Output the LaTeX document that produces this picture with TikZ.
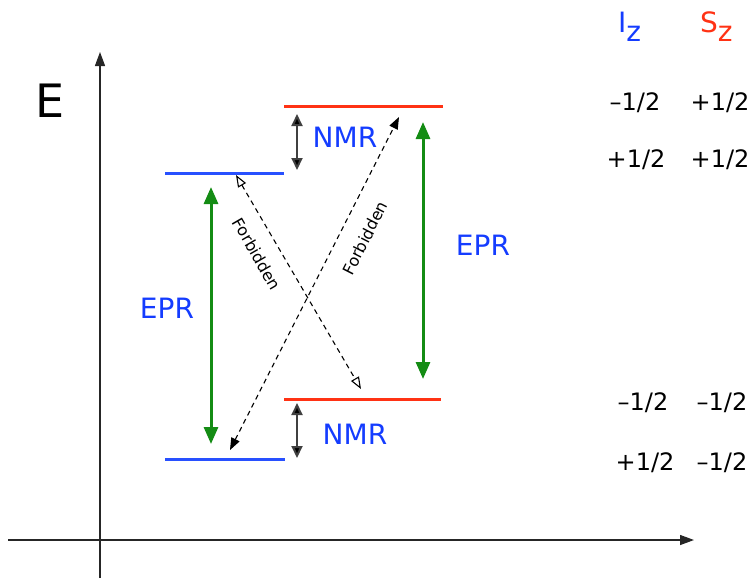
\documentclass[tikz,border=0pt]{standalone}
\usepackage{fontspec}
\setmainfont{DejaVu Sans}
\usetikzlibrary{arrows.meta}
\definecolor{lvblue}{RGB}{40,80,255}
\definecolor{lvred}{RGB}{255,50,20}
\definecolor{epr}{RGB}{20,140,20}
\definecolor{txtblue}{RGB}{20,60,255}
\tikzset{
  level/.style={line width=3pt},
  eprarrow/.style={epr,line width=3pt,{Triangle[length=17pt,width=14pt]}-{Triangle[length=17pt,width=14pt]}},
  nmrarrow/.style={black!75,line width=2pt,{Triangle[length=12pt,width=11pt,fill=black]}-{Triangle[length=12pt,width=11pt,fill=black]}},
  forbopen/.style={black,line width=1.1pt,dash pattern=on 5pt off 4pt,{Triangle[open,length=12pt,width=9pt]}-{Triangle[open,length=12pt,width=9pt]}},
  forbfill/.style={black,line width=1.1pt,dash pattern=on 5pt off 4pt,{Triangle[length=12pt,width=9pt]}-{Triangle[length=12pt,width=9pt]}},
  axis/.style={black!85,line width=1.3pt},
  lbl/.style={inner sep=0pt,text=txtblue,font=\fontsize{28}{30}\selectfont},
  val/.style={inner sep=0pt,font=\fontsize{24}{26}\selectfont},
  forb/.style={inner sep=0pt,font=\fontsize{16}{18}\selectfont}
}
\begin{document}
\begin{tikzpicture}[x=1pt,y=-1pt]
\useasboundingbox (0,0) rectangle (751,579);
% axes
\coordinate (yb) at (100,578);
\coordinate (yt) at (100,52);
\coordinate (xl) at (8,540);
\coordinate (xr) at (694,540);
\draw[axis,-{Triangle[length=14pt,width=10pt]}] (yb) -- (yt);
\draw[axis,-{Triangle[length=14pt,width=10pt]}] (xl) -- (xr);
\node[inner sep=0pt,font=\fontsize{46}{48}\selectfont] (E) at (50,101) {E};
% levels
\coordinate (b1L) at (165,173); \coordinate (b1R) at (284,173);
\coordinate (r1L) at (284,106); \coordinate (r1R) at (443,106);
\coordinate (r2L) at (284,399); \coordinate (r2R) at (441,399);
\coordinate (b2L) at (165,459); \coordinate (b2R) at (285,459);
\draw[level,lvblue] (b1L) -- (b1R);
\draw[level,lvred] (r1L) -- (r1R);
\draw[level,lvred] (r2L) -- (r2R);
\draw[level,lvblue] (b2L) -- (b2R);
% EPR arrows
\coordinate (e1t) at (211,187); \coordinate (e1b) at (211,444);
\coordinate (e2t) at (423,122); \coordinate (e2b) at (423,379);
\draw[eprarrow] (e1t) -- (e1b);
\draw[eprarrow] (e2t) -- (e2b);
\node[lbl] (epr1) at (167,308) {EPR};
\node[lbl] (epr2) at (483,245) {EPR};
% NMR arrows
\coordinate (n1t) at (297,114); \coordinate (n1b) at (297,170);
\coordinate (n2t) at (297,403); \coordinate (n2b) at (297,458);
\draw[nmrarrow] (n1t) -- (n1b);
\draw[nmrarrow] (n2t) -- (n2b);
\node[lbl] (nmr1) at (345,137) {NMR};
\node[lbl] (nmr2) at (355,434) {NMR};
% forbidden
\coordinate (fa1) at (236,175); \coordinate (fa2) at (361,389);
\coordinate (fb1) at (230,450); \coordinate (fb2) at (399,117);
\draw[forbopen] (fa1) -- (fa2);
\draw[forbfill] (fb1) -- (fb2);
\node[forb,rotate=-60] (fl1) at (257,254) {Forbidden};
\node[forb,rotate=63] (fl2) at (365,238) {Forbidden};
% table
\node[inner sep=0pt,text=txtblue,font=\fontsize{28}{30}\selectfont,anchor=base west] (Iz) at (618,32) {I\raisebox{-9pt}{z}};
\node[inner sep=0pt,text=lvred,font=\fontsize{28}{30}\selectfont,anchor=base west] (Sz) at (700,32) {S\raisebox{-9pt}{z}};
\node[val] (v11) at (635,103) {–1/2};
\node[val] (v12) at (720,103) {+1/2};
\node[val] (v21) at (636,160) {+1/2};
\node[val] (v22) at (720,160) {+1/2};
\node[val] (v31) at (643,403) {–1/2};
\node[val] (v32) at (722,403) {–1/2};
\node[val] (v41) at (645,463) {+1/2};
\node[val] (v42) at (722,463) {–1/2};
\end{tikzpicture}
\end{document}
